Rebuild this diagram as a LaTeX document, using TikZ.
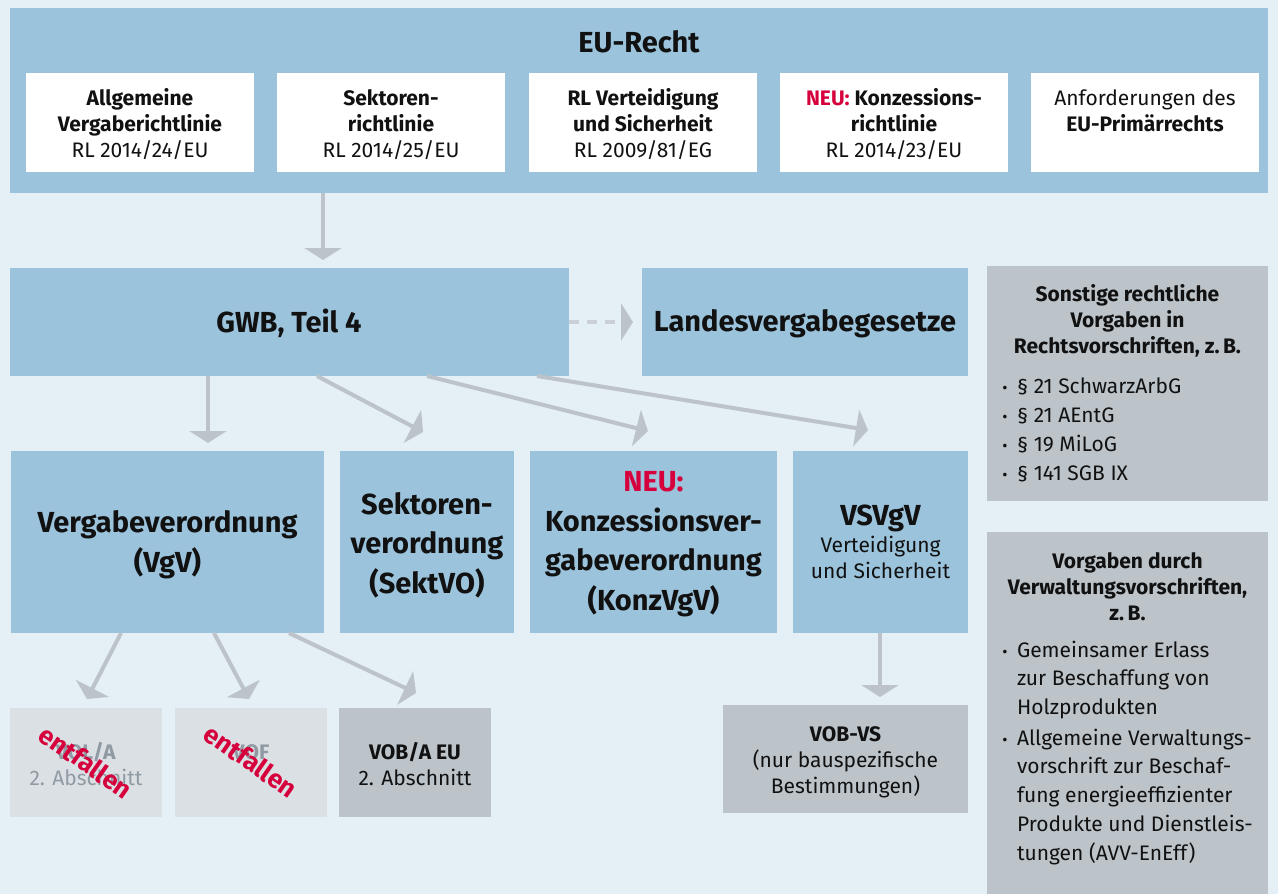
\documentclass[tikz,border=0pt]{standalone}
\usepackage{fontspec}
\setmainfont{Fira Sans}
\usetikzlibrary{arrows.meta}
\definecolor{bgc}{RGB}{228,239,246}
\definecolor{boxblue}{RGB}{155,195,220}
\definecolor{boxgray}{RGB}{188,196,202}
\definecolor{boxlight}{RGB}{219,224,228}
\definecolor{arrgray}{RGB}{188,196,202}
\definecolor{dashgray}{RGB}{202,208,213}
\definecolor{neured}{RGB}{213,0,60}
\definecolor{fade}{RGB}{143,154,163}
\definecolor{ink}{RGB}{17,17,17}
\newcommand\fsN{\fontsize{21}{26}\selectfont}
\newcommand\fsL{\fontsize{21}{28.7}\selectfont}
\newcommand\fsB{\fontsize{29}{39.5}\selectfont\bfseries}
\newcommand\bul{\makebox[16pt][c]{\fontsize{16}{16}\selectfont •}\hspace{4pt}}
\newcommand\ind{\hspace*{20pt}}
\begin{document}
\begin{tikzpicture}[x=1pt,y=-1pt,
  rbox/.style={inner sep=0pt,outer sep=0pt,anchor=north west},
  blue/.style={rbox,fill=boxblue},
  white/.style={rbox,fill=white},
  gray/.style={rbox,fill=boxgray},
  light/.style={rbox,fill=boxlight},
  txt/.style={inner sep=0pt,outer sep=0pt,anchor=base,align=center,font=\fsN,text=ink},
  big/.style={txt,font=\fsB},
  arr/.style={draw=arrgray,line width=4pt,-{Triangle[width=37pt,length=12pt]}},
  darr/.style={draw=dashgray,line width=4pt,dash pattern=on 10pt off 8pt,
               -{Triangle[width=37pt,length=12pt,fill=arrgray,color=arrgray]}},
  stamp/.style={inner sep=0pt,font=\fontsize{26}{26}\selectfont\bfseries,text=neured,rotate=-35}
]
\fill[bgc] (0,0) rectangle (1278,894);
\useasboundingbox (0,0) rectangle (1278,894);

% EU-Recht
\node[blue,minimum width=1258pt,minimum height=185pt] (eu) at (10,8) {};
\node[big] (eut) at (639,52) {EU-Recht};
\node[white,minimum width=228pt,minimum height=99pt] (w1) at (26,73) {};
\node[white,minimum width=228pt,minimum height=99pt] (w2) at (277,73) {};
\node[white,minimum width=228pt,minimum height=99pt] (w3) at (529,73) {};
\node[white,minimum width=228pt,minimum height=99pt] (w4) at (780,73) {};
\node[white,minimum width=228pt,minimum height=99pt] (w5) at (1031,73) {};
\node[txt] (w1t) at (140,157) {\textbf{Allgemeine}\\\textbf{Vergaberichtlinie}\\RL 2014/24/EU};
\node[txt] (w2t) at (391,157) {\textbf{Sektoren-}\\\textbf{richtlinie}\\RL 2014/25/EU};
\node[txt] (w3t) at (643,157) {\textbf{RL Verteidigung}\\\textbf{und Sicherheit}\\RL 2009/81/EG};
\node[txt] (w4t) at (894,157) {\textbf{\textcolor{neured}{NEU:} Konzessions-}\\\textbf{richtlinie}\\RL 2014/23/EU};
\node[txt] (w5t) at (1145,131) {Anforderungen des\\\textbf{EU-Primärrechts}};

% GWB row
\node[blue,minimum width=559pt,minimum height=108pt] (gwb) at (10,268) {};
\node[big] (gwbt) at (289,332) {GWB, Teil 4};
\node[blue,minimum width=326pt,minimum height=108pt] (lvg) at (642,268) {};
\node[big] (lvgt) at (805,331) {Landesvergabegesetze};

% right boxes
\node[gray,minimum width=281pt,minimum height=235pt] (son) at (987,266) {};
\node[txt,font=\fsN\bfseries] (sont) at (1127.5,353) {Sonstige rechtliche\\Vorgaben in\\Rechtsvorschriften, z.\,B.};
\node[txt,anchor=base west,align=left,font=\fsL] (sonl) at (997,480) {\bul § 21 SchwarzArbG\\\bul § 21 AEntG\\\bul § 19 MiLoG\\\bul § 141 SGB IX};
\node[gray,minimum width=281pt,minimum height=362pt] (ver) at (987,532) {};
\node[txt,font=\fsN\bfseries] (vert) at (1127.5,620) {Vorgaben durch\\Verwaltungsvorschriften,\\z.\,B.};
\node[txt,anchor=base west,align=left,font=\fsL] (verl) at (997,860) {\bul Gemeinsamer Erlass\\\ind zur Beschaffung von\\\ind Holzprodukten\\[2pt]\bul Allgemeine Verwaltungs-\\\ind vorschrift zur Beschaf-\\\ind fung energieeffizienter\\\ind Produkte und Dienstleis-\\\ind tungen (AVV-EnEff)};

% middle row
\node[blue,minimum width=313pt,minimum height=182pt] (vgv) at (11,451) {};
\node[big] (vgvt) at (167.5,572) {Vergabeverordnung\\(VgV)};
\node[blue,minimum width=174pt,minimum height=182pt] (sekt) at (340,451) {};
\node[big] (sektt) at (427,593) {Sektoren-\\verordnung\\(SektVO)};
\node[blue,minimum width=247pt,minimum height=182pt] (konz) at (530,451) {};
\node[big] (konzt) at (653.5,610) {\textcolor{neured}{NEU:}\\Konzessionsver-\\gabeverordnung\\(KonzVgV)};
\node[blue,minimum width=175pt,minimum height=182pt] (vsv) at (793,451) {};
\node[big] (vsvt) at (880.5,525) {VSVgV};
\node[txt] (vsvs) at (880.5,578) {Verteidigung\\und Sicherheit};

% bottom row
\node[light,minimum width=152pt,minimum height=109pt] (vola) at (10,708) {};
\node[txt,text=fade] (volat) at (86,785) {\textbf{VOL/A}\\2. Abschnitt};
\node[stamp] (st1) at (86,762) {entfallen};
\node[light,minimum width=152pt,minimum height=109pt] (vof) at (175,708) {};
\node[txt,text=fade] (voft) at (251,759) {\textbf{VOF}};
\node[stamp] (st2) at (251,761) {entfallen};
\node[gray,minimum width=152pt,minimum height=109pt] (voba) at (339,708) {};
\node[txt] (vobat) at (415,785) {\textbf{VOB/A EU}\\2. Abschnitt};
\node[gray,minimum width=245pt,minimum height=108pt] (vobvs) at (723,705) {};
\node[txt] (vobvst) at (845.5,793) {\textbf{VOB-VS}\\(nur bauspezifische\\Bestimmungen)};

% arrow tips
\coordinate (tg) at (323,260);
\coordinate (tlvg) at (633,322);
\coordinate (tv) at (208,443);
\coordinate (ts) at (423,432);
\coordinate (tk) at (648,431);
\coordinate (tvs) at (868,430);
\coordinate (tvola) at (87,699);
\coordinate (tvof) at (249,699);
\coordinate (tvoba) at (416,693);
\coordinate (tvobvs) at (880,697);

\draw[arr] ([xshift=313pt]eu.south west) -- (tg);
\draw[darr] (gwb.east) -- (tlvg);
\draw[arr] ([xshift=198pt]gwb.south west) -- (tv);
\draw[arr] ([xshift=307pt]gwb.south west) -- (ts);
\draw[arr] ([xshift=417pt]gwb.south west) -- (tk);
\draw[arr] ([xshift=527pt]gwb.south west) -- (tvs);
\draw[arr] ([xshift=110pt]vgv.south west) -- (tvola);
\draw[arr] ([xshift=203pt]vgv.south west) -- (tvof);
\draw[arr] ([xshift=278pt]vgv.south west) -- (tvoba);
\draw[arr] ([xshift=87pt]vsv.south west) -- (tvobvs);
\end{tikzpicture}
\end{document}
